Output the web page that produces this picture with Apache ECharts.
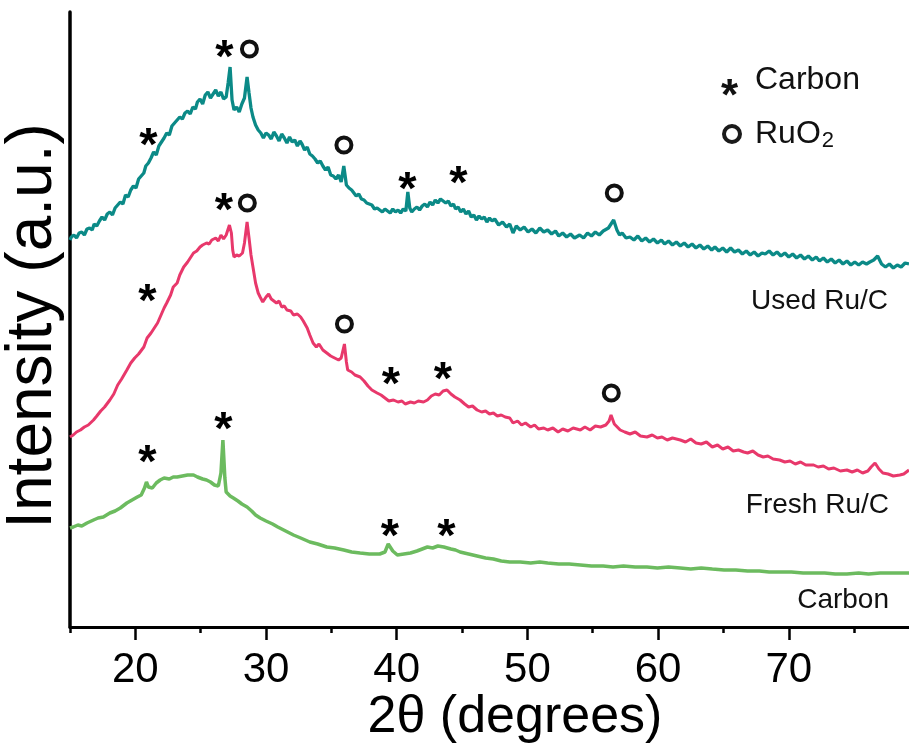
<!DOCTYPE html>
<html>
<head>
<meta charset="utf-8">
<script src="https://cdn.jsdelivr.net/npm/echarts@6/dist/echarts.min.js"></script>
<style>html,body{margin:0;padding:0;background:#fff}#c{width:909px;height:745px}</style>
</head>
<body>
<div id="c"></div>
<script>
// 2θ (degrees) vs intensity (a.u., curves stacked with offsets as in the figure)
const majorTicks = [20, 30, 40, 50, 60, 70];
const minorTicks = [15, 25, 35, 45, 55, 65, 75];

const usedRuC = [
[15.0,388],[15.1,391],[15.3,393],[15.5,390],[15.7,395],[15.9,396],[16.1,393],[16.3,399],[16.5,400],[16.7,398],
[16.85,404],[17.05,402],[17.25,407],[17.45,411],[17.65,408],[17.85,414],[18.05,416],[18.25,413],[18.45,420],[18.65,423],
[18.85,426],[19.05,424],[19.25,433],[19.45,431],[19.65,438],[19.85,442],[20.05,440],[20.25,449],[20.45,452],[20.65,455],
[20.8,462],[21.0,465],[21.2,470],[21.4,476],[21.6,473],[21.8,482],[22.0,486],[22.2,490],[22.4,495],[22.6,493],
[22.8,502],[23.0,505],[23.2,508],[23.4,511],[23.6,509],[23.8,515],[24.0,517],[24.2,514],[24.4,521],[24.6,519],
[24.75,526],[24.95,529],[25.15,524],[25.35,533],[25.55,536],[25.75,530],[25.95,534],[26.15,538],[26.35,532],[26.55,536],
[26.75,529],[26.95,531],[27.1,545],[27.25,561],[27.4,528],[27.55,518],[27.75,521],[27.95,516],[28.15,524],[28.35,530],
[28.55,551],[28.7,535],[28.85,520],[29.0,511],[29.2,503],[29.4,498],[29.6,495],[29.8,490],[30.0,495],[30.2,493],
[30.4,489],[30.6,496],[30.8,492],[31.0,487],[31.2,494],[31.4,490],[31.6,485],[31.8,491],[32.0,486],[32.2,488],
[32.4,482],[32.6,487],[32.75,484],[32.95,478],[33.15,481],[33.35,474],[33.55,472],[33.75,469],[33.95,465],[34.15,467],
[34.35,462],[34.55,458],[34.75,461],[34.95,453],[35.15,452],[35.35,449],[35.55,453],[35.75,446],[35.95,462],[36.15,443],
[36.35,440],[36.55,438],[36.7,437],[36.9,432],[37.1,434],[37.3,429],[37.5,428],[37.7,425],[37.9,424],[38.1,423],
[38.3,419],[38.5,420],[38.7,418],[38.9,416],[39.1,419],[39.3,417],[39.5,415],[39.7,419],[39.9,416],[40.1,418],
[40.3,415],[40.5,419],[40.7,417],[40.85,436],[41.0,420],[41.15,416],[41.35,419],[41.55,421],[41.75,418],[41.95,422],
[42.15,424],[42.35,421],[42.55,426],[42.75,423],[42.95,428],[43.15,425],[43.35,429],[43.55,427],[43.75,425],[43.95,427],
[44.15,422],[44.35,424],[44.5,419],[44.7,421],[44.9,416],[45.1,419],[45.3,414],[45.5,417],[45.7,411],[45.9,413],
[46.1,408],[46.3,412],[46.5,409],[46.7,411],[46.9,406],[47.1,410],[47.3,407],[47.5,409],[47.8,403],[48.1,406],
[48.4,401],[48.65,404],[48.9,395],[49.15,402],[49.45,398],[49.75,401],[50.05,396],[50.35,399],[50.65,395],[50.95,400],
[51.25,396],[51.55,398],[51.85,394],[52.15,397],[52.4,392],[52.7,395],[53.0,391],[53.3,394],[53.6,390],[54.0,393],
[54.3,390],[54.6,395],[54.9,392],[55.2,396],[55.5,393],[55.8,397],[56.2,400],[56.6,408],[56.85,398],[57.05,393],
[57.25,395],[57.55,390],[57.85,391],[58.15,388],[58.45,392],[58.75,387],[59.05,390],[59.35,386],[59.65,389],[59.95,385],
[60.25,388],[60.5,384],[60.8,387],[61.1,383],[61.4,386],[61.7,382],[62.0,385],[62.3,381],[62.6,384],[62.9,380],
[63.2,383],[63.5,379],[63.8,382],[64.1,378],[64.35,381],[64.65,377],[64.95,380],[65.25,376],[65.55,380],[65.85,376],
[66.15,378],[66.45,374],[66.75,377],[67.05,373],[67.35,376],[67.65,372],[67.95,375],[68.2,374],[68.5,377],[68.8,373],
[69.1,376],[69.4,372],[69.7,375],[70.0,371],[70.3,374],[70.6,370],[70.9,373],[71.2,369],[71.5,372],[71.8,368],
[72.1,371],[72.35,367],[72.65,370],[72.95,366],[73.25,369],[73.55,365],[73.85,368],[74.15,364],[74.45,367],[74.75,363],
[75.05,366],[75.35,363],[75.65,366],[75.95,364],[76.2,366],[76.5,368],[76.8,372],[77.1,364],[77.4,361],[77.7,364],
[78.0,360],[78.3,363],[78.6,361],[78.9,365],[79.2,364]
];

const freshRuC = [
[15.0,191],[15.25,193],[15.5,196],[15.8,198],[16.1,201],[16.4,203],[16.8,208],[17.05,212],[17.35,217],[17.65,221],
[18.05,228],[18.35,234],[18.65,243],[18.95,249],[19.35,258],[19.65,265],[19.95,270],[20.25,274],[20.65,281],[20.9,290],
[21.2,295],[21.5,301],[21.7,305],[22.0,314],[22.2,320],[22.4,325],[22.7,333],[22.9,341],[23.2,345],[23.4,353],
[23.7,361],[24.0,366],[24.2,370],[24.45,375],[24.7,377],[24.95,381],[25.15,383],[25.45,385],[25.65,384],[25.85,388],
[26.15,390],[26.35,387],[26.55,393],[26.75,389],[26.95,393],[27.2,403],[27.35,395],[27.45,378],[27.55,371],[27.75,373],
[27.95,372],[28.2,375],[28.35,385],[28.55,406],[28.7,390],[28.85,373],[29.0,361],[29.2,345],[29.4,335],[29.55,331],
[29.75,326],[30.0,331],[30.2,334],[30.4,329],[30.55,328],[30.8,325],[31.0,327],[31.2,321],[31.4,322],[31.6,318],
[31.9,317],[32.1,313],[32.4,314],[32.65,311],[32.85,307],[33.15,300],[33.35,293],[33.6,285],[33.85,281],[34.05,284],
[34.35,278],[34.65,275],[34.95,272],[35.25,270],[35.55,268],[35.75,270],[36.0,284],[36.15,266],[36.25,258],[36.55,256],
[36.8,253],[37.2,251],[37.5,247],[37.8,242],[38.1,238],[38.5,235],[38.8,233],[39.1,230],[39.4,227],[39.75,228],
[40.1,226],[40.4,227],[40.65,224],[41.05,226],[41.35,225],[41.65,227],[42.05,226],[42.35,228],[42.65,232],[42.95,234],
[43.25,233],[43.55,237],[43.85,238],[44.15,234],[44.45,231],[44.85,228],[45.2,224],[45.5,221],[45.8,222],[46.15,218],
[46.5,216],[46.8,217],[47.1,214],[47.4,215],[47.7,212],[48.0,213],[48.3,211],[48.65,210],[48.9,205],[49.25,207],
[49.55,203],[49.85,205],[50.25,201],[50.55,203],[50.85,199],[51.25,200],[51.55,198],[51.95,200],[52.35,196],[52.7,199],
[53.1,197],[53.5,200],[54.05,198],[54.4,201],[54.8,198],[55.2,202],[55.6,201],[56.0,203],[56.25,207],[56.4,213],
[56.65,204],[57.1,198],[57.45,196],[57.85,194],[58.25,196],[58.65,192],[59.15,191],[59.55,193],[59.95,190],[60.3,191],
[60.7,188],[61.1,190],[61.7,188],[62.1,186],[62.5,189],[62.9,185],[63.3,184],[63.7,186],[64.15,181],[64.55,183],
[64.95,179],[65.35,181],[65.75,177],[66.15,178],[66.55,176],[66.85,175],[67.25,177],[67.65,173],[68.05,171],[68.4,172],
[68.8,169],[69.3,168],[69.7,166],[70.1,167],[70.5,164],[70.9,166],[71.3,163],[71.9,163],[72.25,161],[72.65,162],
[73.05,159],[73.45,160],[73.95,157],[74.45,158],[74.85,156],[75.25,158],[75.65,155],[76.05,157],[76.3,161],[76.6,165],
[76.9,159],[77.2,155],[77.6,154],[78.0,152],[78.5,153],[78.8,154],[79.2,158]
];

const carbon = [
[15.0,100],[15.25,101],[15.6,103],[15.9,102],[16.3,105],[16.8,108],[17.15,110],[17.55,111],[18.05,115],[18.45,117],
[18.85,120],[19.35,125],[19.75,128],[20.15,131],[20.45,133],[20.7,140],[20.85,146],[21.0,141],[21.3,140],[21.6,145],
[21.9,148],[22.2,150],[22.6,149],[22.9,151],[23.2,151],[23.6,152],[24.0,153],[24.45,153],[24.75,151],[25.15,149],
[25.45,148],[25.75,146],[26.05,143],[26.35,142],[26.55,155],[26.7,188],[26.85,150],[26.95,136],[27.25,132],[27.5,130],
[27.85,127],[28.15,124],[28.55,121],[28.9,117],[29.2,113],[29.55,110],[30.0,107],[30.5,104],[30.9,101],[31.5,97],
[32.1,93],[32.65,90],[33.35,86],[33.95,84],[34.65,81],[35.25,80],[35.95,78],[36.55,76],[37.2,75],[37.9,74],
[38.7,74],[39.1,76],[39.35,84],[39.5,85],[39.7,77],[40.05,73],[40.55,74],[41.05,75],[41.55,77],[41.95,79],
[42.35,81],[42.75,80],[43.15,82],[43.6,81],[44.15,79],[44.5,78],[44.85,76],[45.5,74],[46.15,72],[46.8,70],
[47.4,69],[48.0,67],[48.65,66],[49.45,66],[50.25,65],[50.95,66],[51.55,65],[52.4,64],[53.2,64],[54.05,63],
[54.9,62],[55.8,62],[56.55,61],[57.35,62],[58.25,61],[59.15,61],[59.95,60],[60.8,61],[61.7,60],[62.5,59],
[63.3,60],[64.15,59],[65.05,58],[65.95,58],[66.85,57],[67.75,57],[68.5,56],[69.3,56],[70.2,56],[71.1,55],
[71.85,55],[72.75,55],[73.55,54],[74.45,54],[75.35,55],[76.1,54],[77.0,55],[78.1,55],[79.2,55]
];

// peak markers (position in 2θ, height in the same offset units)
const carbonPeaks = [
[21.0,492],[26.81,580],[40.81,448],[44.72,454],
[20.92,336],[26.78,427],[39.55,253],[43.53,258],
[20.92,175],[26.74,208],[39.48,101],[43.8,101]
];
const ruo2Peaks = [
[28.73,579],[35.96,483],[56.65,435],
[28.57,425],[36.0,304],[56.42,235]
];

const seriesNames = ['Used Ru/C', 'Fresh Ru/C', 'Carbon'];
const colors = ['#0b8a87', '#e8386b', '#6cbb5f'];

const chart = echarts.init(document.getElementById('c'), null, {renderer: 'canvas'});
const FONT = 'Liberation Sans, Arial, sans-serif';

chart.setOption({
  animation: false,
  backgroundColor: '#fff',
  grid: {left: 70, right: 0, top: 12, bottom: 118, containLabel: false},
  xAxis: [{
    type: 'value', min: 15, max: 79.2,
    axisLine: {show: true, onZero: false, lineStyle: {color: '#000', width: 3}},
    axisTick: {show: true, customValues: majorTicks, length: 13, lineStyle: {color: '#000', width: 2.5}},
    axisLabel: {show: true, customValues: majorTicks, fontSize: 42, color: '#000', fontFamily: FONT, margin: 22},
    splitLine: {show: false}
  }, {
    type: 'value', min: 15, max: 79.2, position: 'bottom',
    axisLine: {show: false},
    axisTick: {show: true, customValues: minorTicks, length: 6, lineStyle: {color: '#000', width: 2.5}},
    axisLabel: {show: false},
    splitLine: {show: false}
  }],
  yAxis: {
    type: 'value', min: 1, max: 616,
    axisLine: {show: true, onZero: false, lineStyle: {color: '#000', width: 3.5}},
    axisTick: {show: false}, axisLabel: {show: false}, splitLine: {show: false}
  },
  series: [
    {name: seriesNames[0], type: 'line', data: usedRuC, showSymbol: false, lineStyle: {color: colors[0], width: 3.3}, z: 3},
    {name: seriesNames[1], type: 'line', data: freshRuC, showSymbol: false, lineStyle: {color: colors[1], width: 3}, z: 3},
    {name: seriesNames[2], type: 'line', data: carbon, showSymbol: false, lineStyle: {color: colors[2], width: 3.5}, z: 3},
    {name: 'Carbon peaks', type: 'scatter', data: carbonPeaks, symbol: 'circle', symbolSize: 2,
      itemStyle: {color: 'rgba(255,255,255,0)', opacity: 1}, z: 5, silent: true,
      label: {show: true, position: 'inside', formatter: '*', fontSize: 47, fontWeight: 'bold', color: '#000', opacity: 1, fontFamily: FONT, offset: [0, 11]}},
    {name: 'RuO2 peaks', type: 'scatter', data: ruo2Peaks, symbol: 'circle', symbolSize: 15, z: 5, silent: true,
      itemStyle: {color: 'rgba(255,255,255,0)', borderColor: '#111', borderWidth: 4, opacity: 1}}
  ],
  graphic: [
    {type: 'text', x: 33, y: 326, rotation: Math.PI / 2,
      style: {text: 'Intensity (a.u.)', fontSize: 64, fontFamily: FONT, fill: '#000', align: 'center', verticalAlign: 'middle'}},
    {type: 'text', x: 515, y: 718,
      style: {text: '2θ (degrees)', fontSize: 52, fontFamily: FONT, fill: '#000', align: 'center', verticalAlign: 'middle'}},
    {type: 'text', x: 888, y: 301, style: {text: 'Used Ru/C', fontSize: 28, fontFamily: FONT, fill: '#111', align: 'right', verticalAlign: 'middle'}},
    {type: 'text', x: 889, y: 505, style: {text: 'Fresh Ru/C', fontSize: 28, fontFamily: FONT, fill: '#111', align: 'right', verticalAlign: 'middle'}},
    {type: 'text', x: 889, y: 600, style: {text: 'Carbon', fontSize: 28, fontFamily: FONT, fill: '#111', align: 'right', verticalAlign: 'middle'}},
    {type: 'text', x: 729.5, y: 97.5, style: {text: '*', fontSize: 44, fontWeight: 'bold', fontFamily: FONT, fill: '#111', align: 'center', verticalAlign: 'middle'}},
    {type: 'text', x: 755, y: 80, style: {text: 'Carbon', fontSize: 32, fontFamily: FONT, fill: '#111', align: 'left', verticalAlign: 'middle'}},
    {type: 'circle', shape: {cx: 732, cy: 134, r: 8}, style: {fill: 'none', stroke: '#1a1a1a', lineWidth: 4}},
    {type: 'text', x: 755, y: 134, style: {text: '{a|RuO}{b|2}', fontFamily: FONT, fill: '#111', align: 'left', verticalAlign: 'middle',
      rich: {a: {fontSize: 32, fontFamily: FONT, fill: '#111'}, b: {fontSize: 22, fontFamily: FONT, fill: '#111', padding: [14, 0, 0, 1]}}}}
  ]
});
</script>
</body>
</html>
